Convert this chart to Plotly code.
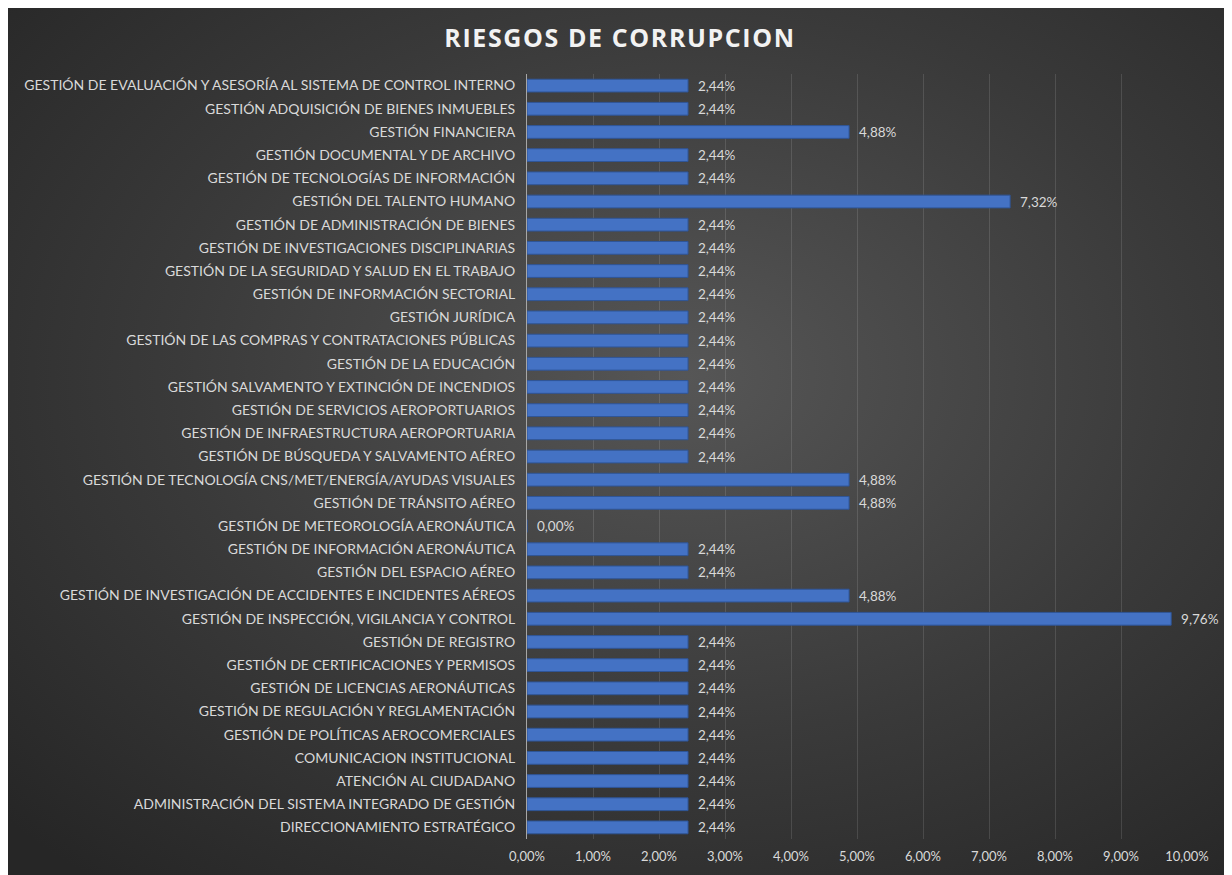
import base64
import plotly.graph_objects as go

categories = [
    "GESTIÓN DE EVALUACIÓN Y ASESORÍA AL SISTEMA DE CONTROL INTERNO",
    "GESTIÓN ADQUISICIÓN DE BIENES INMUEBLES",
    "GESTIÓN FINANCIERA",
    "GESTIÓN DOCUMENTAL Y DE ARCHIVO",
    "GESTIÓN DE TECNOLOGÍAS DE INFORMACIÓN",
    "GESTIÓN DEL TALENTO HUMANO",
    "GESTIÓN DE ADMINISTRACIÓN DE BIENES",
    "GESTIÓN DE INVESTIGACIONES DISCIPLINARIAS",
    "GESTIÓN DE LA SEGURIDAD Y SALUD EN EL TRABAJO",
    "GESTIÓN DE INFORMACIÓN SECTORIAL",
    "GESTIÓN JURÍDICA",
    "GESTIÓN DE LAS COMPRAS Y CONTRATACIONES PÚBLICAS",
    "GESTIÓN DE LA EDUCACIÓN",
    "GESTIÓN SALVAMENTO Y EXTINCIÓN DE INCENDIOS",
    "GESTIÓN DE SERVICIOS AEROPORTUARIOS",
    "GESTIÓN DE INFRAESTRUCTURA AEROPORTUARIA",
    "GESTIÓN DE BÚSQUEDA Y SALVAMENTO AÉREO",
    "GESTIÓN DE TECNOLOGÍA CNS/MET/ENERGÍA/AYUDAS VISUALES",
    "GESTIÓN DE TRÁNSITO AÉREO",
    "GESTIÓN DE METEOROLOGÍA AERONÁUTICA",
    "GESTIÓN DE INFORMACIÓN AERONÁUTICA",
    "GESTIÓN DEL ESPACIO AÉREO",
    "GESTIÓN DE INVESTIGACIÓN DE ACCIDENTES E INCIDENTES AÉREOS",
    "GESTIÓN DE INSPECCIÓN, VIGILANCIA Y CONTROL",
    "GESTIÓN DE REGISTRO",
    "GESTIÓN DE CERTIFICACIONES Y PERMISOS",
    "GESTIÓN DE LICENCIAS AERONÁUTICAS",
    "GESTIÓN DE REGULACIÓN Y REGLAMENTACIÓN",
    "GESTIÓN DE POLÍTICAS AEROCOMERCIALES",
    "COMUNICACION INSTITUCIONAL",
    "ATENCIÓN AL CIUDADANO",
    "ADMINISTRACIÓN DEL SISTEMA INTEGRADO DE GESTIÓN",
    "DIRECCIONAMIENTO ESTRATÉGICO",
]

values = [
    0.0244, 0.0244, 0.0488, 0.0244, 0.0244, 0.0732, 0.0244, 0.0244,
    0.0244, 0.0244, 0.0244, 0.0244, 0.0244, 0.0244, 0.0244, 0.0244,
    0.0244, 0.0488, 0.0488, 0.0000, 0.0244, 0.0244, 0.0488, 0.0976,
    0.0244, 0.0244, 0.0244, 0.0244, 0.0244, 0.0244, 0.0244, 0.0244,
    0.0244,
]

tick_values = [0.0, 0.01, 0.02, 0.03, 0.04, 0.05, 0.06, 0.07, 0.08, 0.09, 0.10]

title_text = "RIESGOS DE CORRUPCION"

FONT = "Lato"
W, H = 1232, 875
L, R, T, B = 519, 53, 66, 44

svg = f'''<svg xmlns="http://www.w3.org/2000/svg" width="{W}" height="{H}" viewBox="0 0 {W} {H}" preserveAspectRatio="none">
<defs><radialGradient id="g" cx="0.55" cy="0.42" r="0.75" gradientUnits="objectBoundingBox">
<stop offset="0" stop-color="#565656"/><stop offset="0.55" stop-color="#3a3a3a"/><stop offset="1" stop-color="#262626"/>
</radialGradient></defs>
<rect width="{W}" height="{H}" fill="url(#g)"/></svg>'''
src = "data:image/svg+xml;base64," + base64.b64encode(svg.encode()).decode()

pw = W - L - R
ph = H - T - B
x0 = -L / pw
y0 = (H - B) / ph

fig = go.Figure()
fig.add_trace(go.Bar(
    y=categories,
    x=values,
    orientation="h",
    marker=dict(color="#4472C4", line=dict(color="#2F5597", width=1)),
    text=values,
    texttemplate="\u00a0\u00a0%{x:.2%}",
    textposition="outside",
    constraintext="none",
    textfont=dict(family=FONT, size=13.5, color="#d9d9d9"),
    cliponaxis=False,
    width=0.55,
    hoverinfo="skip",
))

fig.update_layout(
    width=W, height=H,
    margin=dict(l=L, r=R, t=T, b=B),
    paper_bgcolor="white",
    plot_bgcolor="rgba(0,0,0,0)",
    separators=",.",
    showlegend=False,
    font=dict(family=FONT, size=13, color="#d9d9d9"),
    title=dict(text='<span style="letter-spacing:1.6px"><b>' + title_text + "</b></span>",
               x=612 / W, xanchor="center", y=1 - 30 / H, yanchor="middle",
               font=dict(family="Open Sans", size=25, color="#f2f2f2")),
    images=[dict(source=src, xref="paper", yref="paper", x=x0, y=y0,
                 sizex=W / pw, sizey=H / ph, sizing="stretch",
                 xanchor="left", yanchor="top", layer="below")],
    xaxis=dict(range=[0, 0.10], tickvals=tick_values, tickformat=".2%",
               showgrid=True, gridcolor="rgba(255,255,255,0.12)", gridwidth=1,
               zeroline=False, showline=False, ticks="",
               tickfont=dict(family=FONT, size=13, color="#d9d9d9"), ticklabelstandoff=8),
    yaxis=dict(categoryorder="array", categoryarray=categories[::-1],
               autorange=False, range=[-0.5, len(categories) - 0.5],
               showgrid=False, zeroline=False, showline=True, linecolor="#a6a6a6", linewidth=1,
               ticks="", ticklabelstandoff=8,
               tickfont=dict(family=FONT, size=14, color="#d9d9d9")),
)

fig.write_html("out.html")
